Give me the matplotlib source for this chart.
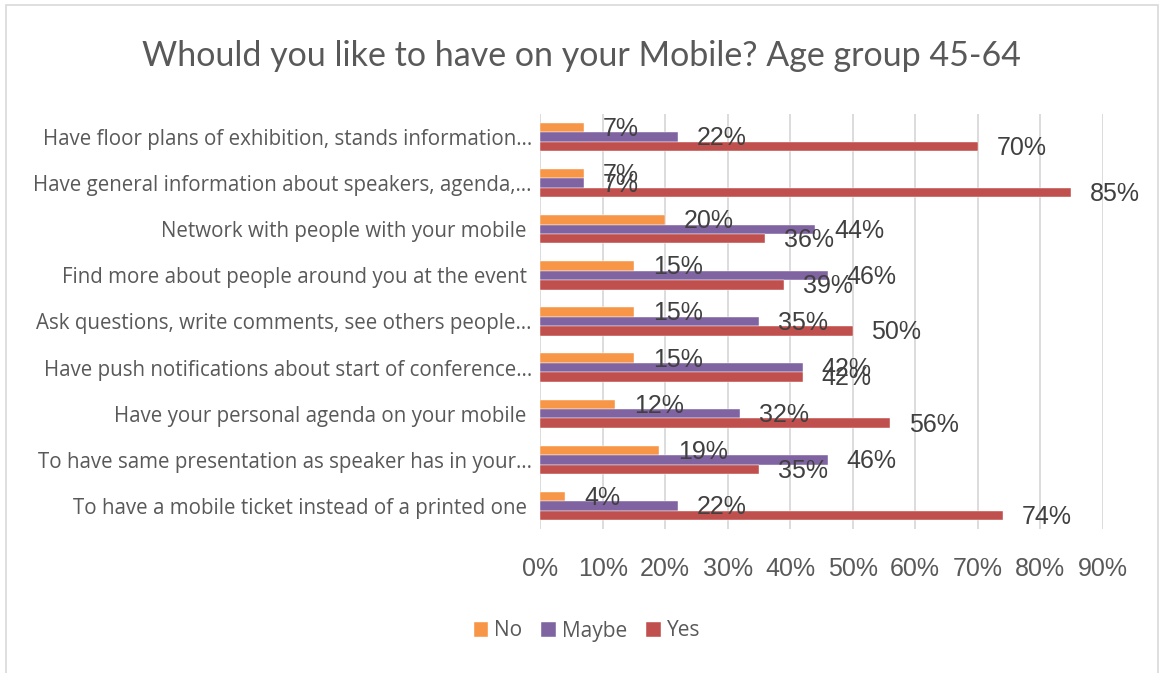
import numpy as np
import matplotlib.pyplot as plt
from matplotlib.patches import Rectangle

# survey answers, age group 45-64 (percent)
categories = [
    "Have floor plans of exhibition, stands information…",
    "Have general information about speakers, agenda,…",
    "Network with people with your mobile ",
    "Find more about people around you at the event ",
    "Ask questions, write comments, see others people…",
    "Have push notifications about start of conference…",
    "Have your personal agenda on your mobile ",
    "To have same presentation as speaker has in your…",
    "To have a mobile ticket instead of a printed one ",
]
no_vals = [7, 7, 20, 15, 15, 15, 12, 19, 4]
maybe_vals = [22, 7, 44, 46, 35, 42, 32, 46, 22]
yes_vals = [70, 85, 36, 39, 50, 42, 56, 35, 74]

series = [("No", no_vals, "#F79646"),
          ("Maybe", maybe_vals, "#8064A2"),
          ("Yes", yes_vals, "#C0504D")]

txt_gray = "#595959"
lbl_font = "Liberation Sans"
cat_font = "Open Sans"

fig = plt.figure(figsize=(11.62, 6.73), dpi=100)
ax = fig.add_axes([0.4649, 0.2140, 0.4841, 0.6166])

y = np.arange(len(categories))
h = 0.205
for i, (name, vals, col) in enumerate(series):
    pos = y + (i - 1) * h
    ax.barh(pos, np.array(vals) / 100, height=h, color=col, label=name,
            edgecolor="white", linewidth=0.3, zorder=3)
    for p, v in zip(pos, vals):
        ax.annotate(f"{v}%", (v / 100, p), xytext=(13.5, -1),
                    textcoords="offset points", ha="left", va="center",
                    fontsize=18, color="#404040", family=lbl_font, zorder=4)

ax.set_xlim(0, 0.9)
ax.set_ylim(len(categories) - 0.5, -0.5)
ax.set_xticks(np.arange(0, 0.91, 0.1))
ax.set_xticklabels([f"{t}%" for t in range(0, 91, 10)],
                   fontsize=18, color=txt_gray, family=lbl_font)
ax.set_yticks(y)
ax.set_yticklabels(categories, fontsize=14.8, color=txt_gray, family=cat_font)
ax.tick_params(axis="x", length=0, pad=20)
ax.tick_params(axis="y", length=0, pad=6)
ax.grid(axis="x", color="#D9D9D9", linewidth=1.3, zorder=0)
for s in ax.spines.values():
    s.set_visible(False)

fig.text(0.5, 1 - 56 / 673, "Whould you like to have on your Mobile? Age group 45-64",
         ha="center", va="center", fontsize=24.5, color=txt_gray, family="Lato")

leg = fig.legend(loc="center", bbox_to_anchor=(587 / 1162, 1 - 631 / 673), ncol=3,
                 frameon=False, prop={"family": cat_font, "size": 15},
                 handlelength=0.7, handleheight=0.7, handletextpad=0.3,
                 columnspacing=0.9)
for t in leg.get_texts():
    t.set_color(txt_gray)

# outer chart frame
fig.patches.append(Rectangle((6 / 1162, -0.01), 1152 / 1162, 1 - 5 / 673 + 0.01,
                             transform=fig.transFigure, fill=False,
                             edgecolor="#D9D9D9", linewidth=1.2))

fig.savefig("out.png", dpi=100)
